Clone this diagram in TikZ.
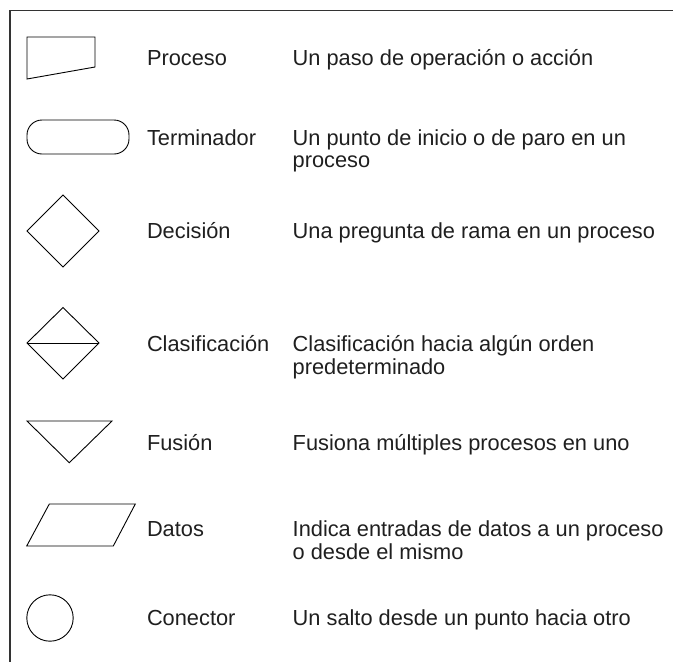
\documentclass[tikz,border=0pt]{standalone}
\usepackage{fontspec}
\setmainfont{Liberation Sans}
\newcommand{\twolines}[2]{\begin{tabular}[t]{@{}l@{}}#1\\#2\end{tabular}}
\begin{document}
\begin{tikzpicture}[x=1pt,y=-1pt,
  frame/.style={draw=black!80,line width=1.2pt},
  symb/.style={draw=black,line width=0.9pt,line join=miter},
  lbl/.style={anchor=base west,inner sep=0pt,outer sep=0pt,text=black!88,
    font=\fontsize{21.8}{22.7}\selectfont}]
\useasboundingbox (0,0) rectangle (673,662);
% frame
\draw[frame] (10,662) -- (10,10.5) -- (673,10.5);
% symbols
\draw[symb] (27,37) -- (95,37) -- (95,67) -- (27,79) -- cycle;
\draw[symb,rounded corners=15pt] (27,120) rectangle (129,154);
\draw[symb] (27,231) -- (63,195) -- (99,231) -- (63,267) -- cycle;
\draw[symb] (27,343) -- (63,307.5) -- (99,343) -- (63,379) -- cycle;
\draw[symb] (27,343) -- (99,343);
\draw[symb] (27,421) -- (112,421) -- (69.3,462.7) -- cycle;
\draw[symb] (49.3,504) -- (135.3,504) -- (113.3,546) -- (26.7,546) -- cycle;
\draw[symb] (50,618) circle[radius=23.2];
% labels
\node[lbl] (n1) at (147,65) {Proceso};
\node[lbl] (d1) at (292.7,65) {Un paso de operación o acción};
\node[lbl] (n2) at (147,145) {Terminador};
\node[lbl] (d2) at (292.7,145) {\twolines{Un punto de inicio o de paro en un}{proceso}};
\node[lbl] (n3) at (147,238.3) {Decisión};
\node[lbl] (d3) at (292.7,238.3) {Una pregunta de rama en un proceso};
\node[lbl] (n4) at (147,351.5) {Clasificación};
\node[lbl] (d4) at (292.7,351.5) {\twolines{Clasificación hacia algún orden}{predeterminado}};
\node[lbl] (n5) at (147,450) {Fusión};
\node[lbl] (d5) at (292.7,450) {Fusiona múltiples procesos en uno};
\node[lbl] (n6) at (147,536.7) {Datos};
\node[lbl] (d6) at (292.7,536.7) {\twolines{Indica entradas de datos a un proceso}{o desde el mismo}};
\node[lbl] (n7) at (147,625.7) {Conector};
\node[lbl] (d7) at (292.7,625.7) {Un salto desde un punto hacia otro};
\end{tikzpicture}
\end{document}
